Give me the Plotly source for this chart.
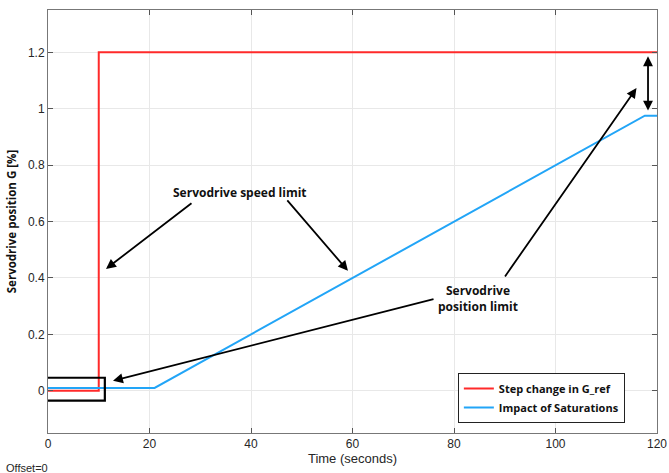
import plotly.graph_objects as go

# Data
t_ref = [0, 10, 10, 120]
g_ref = [0, 0, 1.2, 1.2]
t_sat = [0, 21, 117.6, 120]
g_sat = [0.01, 0.01, 0.975, 0.975]

x_ticks = [0, 20, 40, 60, 80, 100, 120]
y_ticks = [0, 0.2, 0.4, 0.6, 0.8, 1, 1.2]
y_tick_text = ["0", "0.2", "0.4", "0.6", "0.8", "1", "1.2"]

RED = "#ff2a2a"
BLUE = "#22a5f7"

fig = go.Figure()
fig.add_trace(go.Scatter(x=t_ref, y=g_ref, mode="lines", name="Step change in G_ref",
                         line=dict(color=RED, width=2)))
fig.add_trace(go.Scatter(x=t_sat, y=g_sat, mode="lines", name="Impact of Saturations",
                         line=dict(color=BLUE, width=2)))

bold = dict(family="Open Sans, Liberation Sans, sans-serif", size=12, color="#111111")

fig.update_layout(
    width=669, height=473,
    margin=dict(l=48, r=12, t=10, b=40, autoexpand=False),
    paper_bgcolor="white", plot_bgcolor="white",
    font=dict(family="Liberation Sans, Arial, sans-serif", size=12, color="#262626"),
    showlegend=True,
    legend=dict(x=0.673, y=0.142, xanchor="left", yanchor="top",
                bgcolor="white", bordercolor="#222222", borderwidth=1,
                font=dict(family="Open Sans, sans-serif", size=11, color="#111111", weight="bold"),
                tracegroupgap=0, itemwidth=30),
    xaxis=dict(range=[0, 120], tickvals=x_ticks, ticks="inside", ticklen=5, automargin=False,
               tickcolor="#555555", showline=True, linecolor="#777777", mirror="ticks",
               showgrid=True, gridcolor="#e8e8e8", zeroline=False,
               title=dict(text="Time (seconds)", font=dict(size=13, color="#262626"), standoff=2),
               tickfont=dict(size=12, color="#262626")),
    yaxis=dict(range=[-0.15, 1.35], tickvals=y_ticks, ticktext=y_tick_text, ticks="inside", ticklen=5,
               automargin=False,
               tickcolor="#555555", showline=True, linecolor="#777777", mirror="ticks",
               showgrid=True, gridcolor="#e8e8e8", zeroline=False,
               title=dict(text="<b>Servodrive position G [%]</b>",
                          font=dict(family="Open Sans, sans-serif", size=11.5, color="#111111"), standoff=8),
               tickfont=dict(size=12, color="#262626")),
)

# Black rectangle around start region
fig.add_shape(type="rect", x0=-0.6, x1=11.2, y0=-0.035, y1=0.046,
              xref="x", yref="y", line=dict(color="black", width=2.2))

def arrow(x_tail, y_tail, x_tip, y_tip, side="end"):
    fig.add_annotation(x=x_tip, y=y_tip, ax=x_tail, ay=y_tail, xref="x", yref="y",
                       axref="x", ayref="y", text="", showarrow=True,
                       arrowhead=2, startarrowhead=2, arrowsize=1.1, startarrowsize=1.1,
                       arrowwidth=1.8, arrowcolor="black", arrowside=side)

arrow(28.57, 0.669, 11.43, 0.432)
arrow(46.9, 0.680, 59.1, 0.425)
arrow(76.26, 0.326, 12.81, 0.035)
arrow(89.85, 0.400, 115.96, 1.073)
arrow(118.23, 0.988, 118.23, 1.186, side="end+start")

fig.add_annotation(x=37.8, y=0.703, xref="x", yref="y", text="<b>Servodrive speed limit</b>",
                   showarrow=False, font=bold)
fig.add_annotation(x=84.7, y=0.326, xref="x", yref="y",
                   text="<b>Servodrive<br>position limit</b>",
                   showarrow=False, font=bold, align="center")

fig.add_annotation(x=-0.072, y=-0.083, xref="paper", yref="paper", text="Offset=0",
                   showarrow=False, xanchor="left", yanchor="middle",
                   font=dict(size=11, color="#262626"))

fig.write_html("out.html", config={"displayModeBar": False},
               post_script="document.body.style.margin='0';document.body.style.overflow='hidden';")
